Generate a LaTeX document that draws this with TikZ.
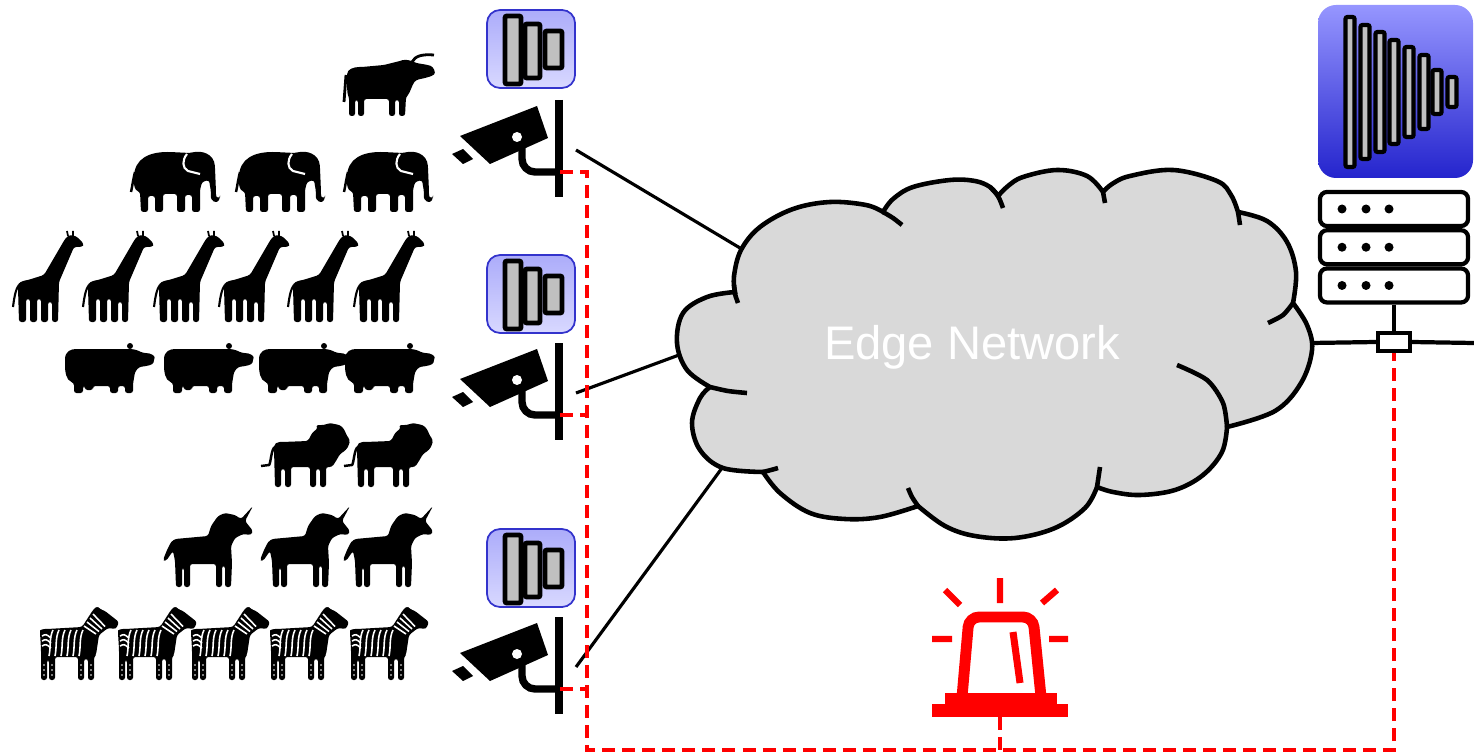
\documentclass[tikz,border=0pt]{standalone}
\usepackage{fontspec}
\setmainfont{Liberation Sans}
\usepackage{xcolor}
\usepackage{tikz}
\usetikzlibrary{positioning}

\definecolor{cloudgray}{RGB}{217,217,217}
\definecolor{sirenred}{RGB}{255,0,0}
\definecolor{iconedge}{RGB}{51,51,204}
\definecolor{iconlight}{RGB}{216,216,255}
\definecolor{iconmid}{RGB}{172,172,250}
\definecolor{bigtop}{RGB}{150,150,255}
\definecolor{bigbottom}{RGB}{36,36,205}
\definecolor{layergray}{RGB}{192,192,192}

\begin{document}
\begin{tikzpicture}[x=0.01cm,y=-0.01cm,semithick]
\tikzstyle{beast}=[fill=black,rounded corners=.025cm]
\tikzstyle{layer}=[draw=black,fill=layergray,line width=1.4pt,rounded corners=.02cm]
\tikzstyle{rack}=[draw,fill=white,line width=1.2pt,rounded corners=.07cm,minimum width=1.48cm,minimum height=.34cm,inner sep=0pt]
\tikzstyle{link}=[line width=.9pt]
\tikzstyle{alarmline}=[sirenred,line width=1.4pt,dash pattern=on .13cm off .07cm]

\tikzset{
 bull/.pic={
  \fill[beast] (5,24) .. controls (5,16) and (12,14) .. (20,14) -- (42,12) -- (58,8) .. controls (64,6) and (70,8) .. (74,10) -- (86,12) .. controls (92,14) and (94,20) .. (90,23) -- (83,25) -- (74,27) .. controls (70,32) and (68,40) .. (64,44) -- (63,63) -- (57,63) -- (57,47) -- (53,47) -- (53,63) -- (47,63) -- (47,46) -- (22,46) -- (22,63) -- (16,63) -- (16,47) -- (13,47) -- (13,63) -- (7,63) -- (7,44) .. controls (5,40) and (5,30) .. (5,24) -- cycle;
  \draw[line width=.8pt] (70,9) .. controls (73,3) and (80,1) .. (92,2);
  \draw[line width=.8pt] (4,22) -- (2,49);
 },
 elephant/.pic={
  \fill[beast] (4,30) .. controls (4,8) and (20,2) .. (40,2) -- (60,3) .. controls (72,0) and (84,4) .. (85,18) -- (86,42) .. controls (86,48) and (89,48) .. (90,45) -- (90,48) .. controls (87,54) and (80,52) .. (81,42) -- (79,30) -- (72,32) -- (70,40) -- (70,62) -- (62,62) -- (62,45) -- (55,45) -- (55,62) -- (47,62) -- (47,44) -- (33,44) -- (33,62) -- (25,62) -- (25,46) -- (18,46) -- (18,62) -- (11,62) -- (10,42) .. controls (5,40) and (4,36) .. (4,30) -- cycle;
  \draw[white,line width=.6pt] (57,4) .. controls (52,10) and (52,18) .. (58,21) -- (70,24);
  \draw[line width=.7pt] (5,22) .. controls (3,30) and (2,38) .. (1,42);
 },
 giraffe/.pic={
  \fill[beast] (6,58) .. controls (6,53) and (10,51) .. (16,50) -- (32,45) -- (53,9) -- (57,5) -- (64,6) -- (72,14) -- (70,17) -- (62,17) -- (50,45) -- (47,52) -- (46,92) -- (40,92) -- (40,72) -- (36,72) -- (36,92) -- (29,92) -- (29,69) -- (25,69) -- (25,92) -- (18,92) -- (18,69) -- (14,69) -- (14,92) -- (7,92) -- cycle;
  \draw[line width=.5pt] (56,6) -- (55,1) (61,6) -- (61,1);
  \draw[line width=.6pt] (7,55) .. controls (3,60) and (2,70) .. (1,77);
 },
 hippo/.pic={
  \fill[beast] (2,20) .. controls (2,9) and (8,7) .. (16,7) -- (64,7) .. controls (72,7) and (76,9) .. (80,11) .. controls (88,11) and (92,14) .. (91,18) .. controls (90,23) and (84,24) .. (76,25) -- (72,30) -- (70,42) -- (70,51) -- (62,51) -- (62,44) -- (55,44) -- (55,51) -- (47,51) -- (47,44) -- (30,44) -- (30,48) -- (22,48) -- (22,44) -- (20,44) -- (20,51) -- (11,51) -- (11,41) .. controls (3,38) and (2,30) .. (2,20) -- cycle;
  \fill (67,4) circle (3);
 },
 lion/.pic={
  \fill[beast] (14,26) .. controls (14,21) and (17,19) .. (22,19) -- (48,18) -- (52,10) -- (58,5) -- (56,2) -- (64,2) -- (70,0) -- (74,1) -- (80,2) -- (84,6) -- (87,13) -- (90,17) -- (89,22) -- (86,27) -- (80,31) -- (76,38) -- (72,44) -- (66,44) -- (66,64) -- (60,64) -- (60,46) -- (56,46) -- (56,64) -- (50,64) -- (50,44) -- (31,44) -- (31,64) -- (25,64) -- (25,46) -- (21,46) -- (21,64) -- (15,64) -- cycle;
  \draw[line width=.7pt] (15,24) .. controls (11,26) and (11,40) .. (9,42) -- (1,43);
 },
 unicorn/.pic={
  \fill[beast] (12,33) -- (45,30) -- (48,20) -- (55,10) -- (62,7) -- (72,9) -- (78,13) -- (90,0) -- (82,15) -- (86,20) -- (90,25) -- (88,29) -- (80,28) -- (72,32) -- (68,40) -- (69,57) -- (68,81) -- (62,81) -- (62,60) -- (59,60) -- (59,81) -- (53,81) -- (53,58) -- (27,58) -- (27,81) -- (21,81) -- (21,62) -- (19,62) -- (19,81) -- (13,81) -- (12,55) -- (10,45) -- (3,55) -- (0,54) -- (4,44) -- (8,36) -- cycle;
 },
 zebra/.pic={
  \fill[beast] (3,28) .. controls (3,25) and (6,24) .. (10,24) -- (45,22) -- (56,5) -- (60,1) -- (63,4) -- (68,6) -- (82,17) -- (79,24) -- (71,23) -- (62,30) -- (59,50) -- (57,52) -- (57,75) -- (51,75) -- (51,54) -- (47,54) -- (47,75) -- (41,75) -- (41,52) -- (18,52) -- (18,75) -- (12,75) -- (12,55) -- (10,55) -- (10,75) -- (4,75) -- (4,44) -- cycle;
  \foreach \s in {0,...,5}
   \draw[white,line width=.45pt] ({16+6*\s},25) .. controls ({12+6*\s},33) and ({14+6*\s},42) .. ({12+6*\s},51);
  \foreach \s in {0,1,2}
   \draw[white,line width=.45pt] (5,{31+5*\s}) .. controls (9,{29+5*\s}) .. (14,{33+5*\s});
  \foreach \s in {0,...,3}
   \draw[white,line width=.45pt] ({47+3*\s},{21-4*\s}) -- ({59+3*\s},{29-2.5*\s});
  \foreach \lx in {7,15,44,54}
   \foreach \ly in {60,65,70}
    \fill[white] (\lx,\ly) circle (.8);
 },
 cctv/.pic={
  \draw[line width=2.3pt] (0,0) -- (0,97);
  \fill (-99,36) -- (-22,6) -- (-11,38) -- (-69,64) -- cycle;
  \fill (-107,54) -- (-96,49) -- (-86,59) -- (-96,64) -- cycle;
  \fill[white] (-42,37) circle (5);
  \draw[line width=2.1pt,rounded corners=.13cm] (-37,45) -- (-37,72) -- (0,72);
  \coordinate (-link) at (17,50);
  \coordinate (-mount) at (1,72);
 },
 cnn/.pic={
  \draw[iconedge,line width=.5pt,rounded corners=.13cm,top color=iconmid,bottom color=iconlight] (0,0) rectangle (88,78);
  \draw[layer] (18,6) rectangle (34,74);
  \draw[layer] (38,14) rectangle (53,68);
  \draw[layer] (58,21) rectangle (75,58);
 },
 dnn/.pic={
  \shade[rounded corners=.18cm,top color=bigtop,bottom color=bigbottom] (0,0) rectangle (155,173);
  \foreach \bx/\bh in {32/75,47/67,62/60,76/52,91/45,106/37,119/22,134/15}
   \draw[layer,line width=1.2pt] ({\bx-4.5},{87-\bh}) rectangle ({\bx+4.5},{87+\bh});
 },
 siren/.pic={
  \fill[sirenred] (-68,-13) rectangle (68,0);
  \fill[sirenred] (-55,-24) rectangle (57,-12);
  \draw[sirenred,line width=3.1pt,rounded corners=.1cm] (-38,-20) -- (-31,-100) -- (33,-100) -- (41,-20);
  \draw[sirenred,line width=2pt] (13,-85) -- (20,-34);
  \draw[sirenred,line width=1.8pt] (0,-139) -- (0,-114) (-55,-127) -- (-40,-112) (42,-114) -- (57,-127) (-68,-78) -- (-48,-78) (49,-78) -- (68,-78);
  \coordinate (-foot) at (0,0);
 }
}

\useasboundingbox (0,0) rectangle (1474,755);

% herd
\pic at (342,53) {bull};
\foreach \ax in {130,235,343} \pic at (\ax,150) {elephant};
\foreach \ax in {12,82,153,218,287,353} \pic at (\ax,230) {giraffe};
\foreach \ax in {63,162,257,343} \pic at (\ax,342) {hippo};
\foreach \ax in {260,343} \pic at (\ax,423) {lion};
\foreach \ax in {163,260,343} \pic at (\ax,506) {unicorn};
\foreach \ax in {37,115,188,267,347} \pic at (\ax,605) {zebra};

% cameras with their models
\pic at (487,10) {cnn};
\pic at (487,255) {cnn};
\pic at (487,529) {cnn};
\pic (cam1) at (559,100) {cctv};
\pic (cam2) at (559,343) {cctv};
\pic (cam3) at (559,617) {cctv};

% cloud
\coordinate (cloudNW) at (740,248);
\coordinate (cloudW) at (679,355);
\coordinate (cloudSW) at (722,468);
\coordinate (cloudE) at (1311,343);
\coordinate (netEnd) at (1474,343);

\draw[link] (cam1-link) -- (cloudNW);
\draw[link] (cam2-link) -- (cloudW);
\draw[link] (cam3-link) -- (cloudSW);

\path[draw,fill=cloudgray,line width=1.3pt]
 plot[smooth,tension=.6] coordinates {(735,292) (734,276) (741,250) (760,227) (793,209) (830,202) (866,205) (883,212)}
 -- plot[smooth,tension=.6] coordinates {(883,212) (893,199) (913,187) (950,180) (975,181) (990,187) (998,196)}
 -- plot[smooth,tension=.6] coordinates {(998,196) (1008,186) (1023,177) (1057,170) (1087,176) (1103,192)}
 -- plot[smooth,tension=.6] coordinates {(1103,192) (1112,184) (1130,176) (1173,170) (1217,181) (1231,195) (1238,212)}
 -- plot[smooth,tension=.6] coordinates {(1238,212) (1267,221) (1287,242) (1296,272) (1293,303)}
 -- plot[smooth,tension=.6] coordinates {(1293,303) (1307,325) (1312,350) (1301,383) (1275,411) (1227,427)}
 -- plot[smooth,tension=.6] coordinates {(1227,427) (1222,452) (1203,475) (1175,490) (1140,495) (1113,492) (1097,487)}
 -- plot[smooth,tension=.6] coordinates {(1097,487) (1085,508) (1055,528) (1015,538) (975,536) (945,526) (918,506)}
 -- plot[smooth,tension=.6] coordinates {(918,506) (880,517) (845,519) (810,513) (780,493) (763,472)}
 -- plot[smooth,tension=.6] coordinates {(763,472) (723,468) (700,450) (692,423) (700,398) (710,387)}
 -- plot[smooth,tension=.6] coordinates {(710,387) (687,370) (677,343) (683,313) (707,297) (735,292)}
 -- cycle;
\draw[line width=1.3pt] plot[smooth] coordinates {(734,285) (735,294) (738,303)};
\draw[line width=1.3pt] plot[smooth] coordinates {(883,212) (893,218) (902,225)};
\draw[line width=1.3pt] plot[smooth] coordinates {(990,187) (998,196) (1003,208)};
\draw[line width=1.3pt] (1103,192) -- (1105,203);
\draw[line width=1.3pt] (1238,212) -- (1240,225);
\draw[line width=1.3pt] plot[smooth] coordinates {(1293,303) (1283,315) (1268,323)};
\draw[line width=1.3pt] plot[smooth] coordinates {(1227,427) (1223,403) (1207,380) (1177,365)};
\draw[line width=1.3pt] (1097,487) -- (1100,467);
\draw[line width=1.3pt] plot[smooth] coordinates {(918,506) (912,497) (908,488)};
\draw[line width=1.3pt] plot[smooth] coordinates {(763,472) (771,470) (778,468)};
\draw[line width=1.3pt] plot[smooth] coordinates {(710,387) (728,391) (747,393)};
\node[text=white,font=\fontsize{13.4}{16}\selectfont] (net) at (972,347) {Edge Network};

% server
\pic at (1318,5) {dnn};
\node[rack] (srv1) at (1394,209) {};
\node[rack] (srv2) [below=0pt of srv1] {};
\node[rack] (srv3) [below=0pt of srv2] {};
\foreach \s in {srv1,srv2,srv3}
 \foreach \dx in {-52,-28,-5}
  \fill (\s.center) ++(\dx,0) circle (4.5);
\node[draw,fill=white,line width=1.1pt,minimum width=.32cm,minimum height=.18cm,inner sep=0pt] (tap) at (1394,342) {};
\draw[line width=1.2pt] (srv3) -- (tap);
\draw[line width=1.2pt] (cloudE) -- (tap.west);
\draw[line width=1.2pt] (tap.east) -- (netEnd);

% alarm
\pic (siren) at (1000,717) {siren};
\coordinate (loopSW) at (587,750);
\draw[alarmline] (cam1-mount) -| (loopSW) -| (tap.south);
\draw[alarmline] (cam2-mount) -- (cam2-mount -| loopSW);
\draw[alarmline] (cam3-mount) -- (cam3-mount -| loopSW);
\draw[alarmline] (siren-foot) -- (siren-foot |- loopSW);
\end{tikzpicture}
\end{document}
